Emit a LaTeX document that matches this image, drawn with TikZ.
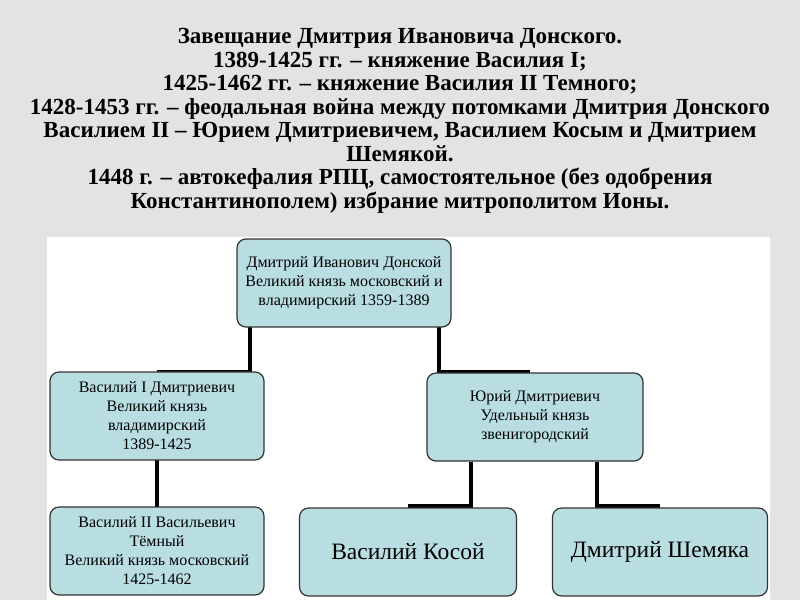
\documentclass[tikz,border=0pt]{standalone}
\usepackage{fontspec}
\setmainfont{Liberation Serif}
\begin{document}
\begin{tikzpicture}[x=1pt,y=-1pt,
  box/.style={draw=black!80,line width=1.2pt,fill=boxc,rounded corners=9pt,minimum width=214pt,minimum height=88pt,align=center,inner sep=0pt,font=\fontsize{16}{19}\selectfont},
  big/.style={font=\fontsize{23.5}{26}\selectfont},
  link/.style={line width=3.5pt}]
\definecolor{boxc}{HTML}{B9DEE2}
\fill[gray!22] (0,0) rectangle (800,600);
\useasboundingbox (0,0) rectangle (800,600);
\fill[white] (47,237) rectangle (770,600);
\node[font=\bfseries\fontsize{23}{23.5}\selectfont,align=center] (title) at (400,121) {Завещание Дмитрия Ивановича Донского.\\
1389-1425 гг. – княжение Василия I;\\
1425-1462 гг. – княжение Василия II Темного;\\
1428-1453 гг. – феодальная война между потомками Дмитрия Донского\\
Василием II – Юрием Дмитриевичем, Василием Косым и Дмитрием\\
Шемякой.\\
1448 г. – автокефалия РПЦ, самостоятельное (без одобрения\\
Константинополем) избрание митрополитом Ионы.};
\coordinate (a1) at (250,327); \coordinate (a2) at (250,372); \coordinate (a3) at (157,372);
\coordinate (b1) at (439,327); \coordinate (b2) at (439,372); \coordinate (b3) at (530,372);
\coordinate (c1) at (157,460); \coordinate (c2) at (157,507);
\coordinate (d1) at (471,462); \coordinate (d2) at (471,506); \coordinate (d3) at (408,506);
\coordinate (e1) at (597,462); \coordinate (e2) at (597,506); \coordinate (e3) at (660,506);
\draw[link] (a1)--(a2)--(a3);
\draw[link] (b1)--(b2)--(b3);
\draw[link] (c1)--(c2);
\draw[link] (d1)--(d2)--(d3);
\draw[link] (e1)--(e2)--(e3);
\node[box] (dd) at (344,283) {Дмитрий Иванович Донской\\Великий князь московский и\\владимирский 1359-1389};
\node[box] (v1) at (157,416) {Василий I Дмитриевич\\Великий князь\\владимирский\\1389-1425};
\node[box,minimum width=216pt] (yu) at (535,417) {Юрий Дмитриевич\\Удельный князь\\звенигородский};
\node[box] (v2) at (157,551) {Василий II Васильевич\\Тёмный\\Великий князь московский\\1425-1462};
\node[box,big,minimum width=217pt] (vk) at (408,552) {Василий Косой};
\node[box,big,minimum width=215pt] (ds) at (660,552) {Дмитрий Шемяка};
\end{tikzpicture}
\end{document}
